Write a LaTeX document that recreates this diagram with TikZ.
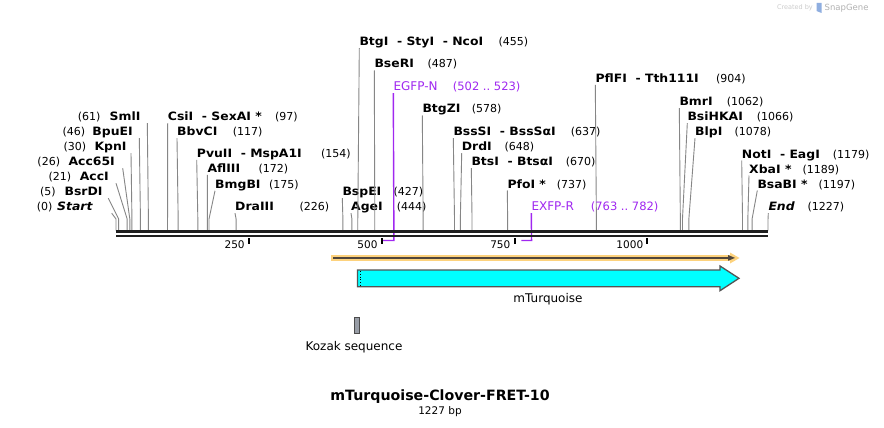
\documentclass[tikz,border=0pt]{standalone}
\usepackage{fontspec}
\setmainfont{DejaVu Sans}
\newfontfamily\enzfont[FakeStretch=1.08]{DejaVu Sans}

\definecolor{primer}{RGB}{160,40,240}
\definecolor{barlt}{RGB}{253,210,125}
\definecolor{bardk}{RGB}{80,70,60}
\definecolor{kozak}{RGB}{152,157,166}
\definecolor{turq}{RGB}{0,255,255}

% bp -> x
\newcommand{\bpx}[1]{116+0.5314*#1}

\begin{document}
\begin{tikzpicture}[x=1pt,y=-1pt,
  enz/.style={font=\enzfont\fontsize{11.5}{13}\selectfont\bfseries, inner sep=0pt},
  sitenum/.style={font=\fontsize{11}{13}\selectfont, inner sep=0pt},
  prm/.style={font=\fontsize{12}{14}\selectfont, text=primer, inner sep=0pt},
  cut/.style={draw=gray!95, line width=0.9pt},
  primline/.style={draw=primer, line width=1.4pt}]

\fill[white] (0,0) rectangle (884,428);
\useasboundingbox (0,0) rectangle (884,428);

\coordinate (bb) at (116,230.5);

% Enzymes, left of their site
\foreach \bp/\rx/\ly/\nm/\mx/\gap in {
61/140.7/116.7/SmlI/77.7/6.6,
46/133/131.7/BpuEI/62.3/6.3,
30/126.7/146.7/KpnI/63.3/4.3,
26/115/161.7/Acc65I/37.3/7.7,
21/109/176.7/AccI/48.3/7,
5/102.7/191.7/BsrDI/40/5.6,
0/92.7/206.7/{\itshape Start}/36.7/19
}
{
\node[enz, anchor=base east] (n\bp) at (\rx,\ly+4) {\nm};
\node[sitenum, anchor=base west] (m\bp) at (\mx,\ly+4) {(\bp)};
\coordinate (k\bp) at ({\bpx{\bp}},219);
\draw[cut] ([xshift=\gap pt,yshift=-2.5pt]n\bp.base east) -- (k\bp) -- (k\bp |- bb);
}

% Enzymes, right of their site
\foreach \bp/\lx/\ly/\nm/\mx in {
97/167.7/116.7/{CsiI\ \ - SexAI *}/275,
117/177/131.7/BbvCI/232.7,
154/196.7/153.3/{PvuII\ \ - MspA1I}/321,
172/207.3/168.3/AflIII/258.3,
175/215/184.3/BmgBI/269,
226/235/206.7/DraIII/299.3,
427/342.3/191.7/BspEI/393.3,
444/351/206.7/AgeI/396.7,
455/359.3/41.7/{BtgI\ \ - StyI\ \ - NcoI}/498.3,
487/374.3/64/BseRI/427.3,
578/422.3/109/BtgZI/471.7,
637/453.3/131.7/{BssSI\ \ - BssSαI}/570.7,
648/461.7/146.7/DrdI/504.3,
670/471.3/161.7/{BtsI\ \ - BtsαI}/565.7,
737/507.3/184/{PfoI *}/556.7,
904/595.3/78.3/{PflFI\ \ - Tth111I}/716,
1062/679.3/101.7/BmrI/726.7,
1066/687.3/116.7/BsiHKAI/756.7,
1078/695/131.7/BlpI/734.3,
1179/741.7/154/{NotI\ \ - EagI}/832.7,
1189/749/169/{XbaI *}/802.3,
1197/757.3/184/{BsaBI *}/818.3,
1227/768.3/206.7/{\itshape End}/807.3
}
{
\node[enz, anchor=base west] (n\bp) at (\lx,\ly+4) {\nm};
\node[sitenum, anchor=base west] (m\bp) at (\mx,\ly+4) {(\bp)};
\coordinate (k\bp) at ({\bpx{\bp}},219);
\draw[cut] ([yshift=-2.5pt]n\bp.base west) -- (k\bp) -- (k\bp |- bb);
}

% Primers
\foreach \bp/\bq/\lx/\ly/\nm/\mx in {
523/502/393.3/86.7/EGFP-N/452.7,
782/763/531.3/206.7/EXFP-R/590.7
}
{
\node[prm, anchor=base west] (n\bp) at (\lx,\ly+4) {\nm};
\node[prm, anchor=base west, font=\fontsize{11.5}{13}\selectfont] (m\bp) at (\mx,\ly+4) {(\bq\ ..\ \bp)};
\coordinate (p\bp) at ({\bpx{\bp}},240.5);
\coordinate (q\bp) at ({\bpx{\bq}},240.5);
\draw[primline] ([yshift=-2.5pt]n\bp.base west) -- (p\bp) -- (q\bp);
}

% Backbone
\draw[line width=3pt, black!88] (116,231.7) -- (768,231.7);
\draw[line width=2.2pt, black!88] (116,236.2) -- (768,236.2);

\foreach \t in {250,500,750,1000}
{
\coordinate (t\t) at ({\bpx{\t}},238);
\draw[line width=2pt] (t\t) -- ++(0,5.5);
\node[sitenum, font=\fontsize{10.5}{12}\selectfont, anchor=base east] (l\t) at ({\bpx{\t}-4},248) {\t};
}

% Features
\fill[barlt] (331,255) rectangle (731,261);
\fill[barlt] (730,252.5) -- (739.5,258) -- (730,263.5) -- cycle;
\draw[line width=2.3pt, bardk] (333,257.9) -- (729,257.9);
\fill[bardk] (728,255) -- (735,257.9) -- (728,260.8) -- cycle;

\draw[fill=turq, draw=black!67, line width=1.3pt]
  (357.5,270) -- (720,270) -- (720,266) -- (739,278.3) -- (720,290.7)
  -- (720,286.7) -- (357.5,286.7) -- cycle;
\draw[black, dotted, line width=0.8pt] (360,271) -- (360,286);
\node[font=\fontsize{12}{14}\selectfont] (turqlbl) at (548,299) {mTurquoise};

\draw[fill=kozak, draw=black!70, line width=0.8pt] (354.3,317.3) rectangle (359.7,333.3);
\node[font=\fontsize{12}{14}\selectfont] (koz) at (354,346.7) {Kozak sequence};

% Title
\node[font=\fontsize{14.2}{16}\selectfont\bfseries] (title) at (440,397) {mTurquoise-Clover-FRET-10};
\node[font=\fontsize{10.5}{12}\selectfont] (size) at (440,411.5) {1227 bp};

% Watermark
\node[font=\fontsize{6.5}{8}\selectfont, text=gray!40, anchor=base east, inner sep=0pt] (made) at (813,10) {Created by};
\fill[cyan!50!blue!45] (816.5,3) -- (821.5,3) -- (821.5,13) -- (816.5,11) -- cycle;
\node[font=\fontsize{8.5}{10}\selectfont, text=gray!60, anchor=base west, inner sep=0pt] (brand) at (824.5,10.5) {SnapGene};

\end{tikzpicture}
\end{document}
